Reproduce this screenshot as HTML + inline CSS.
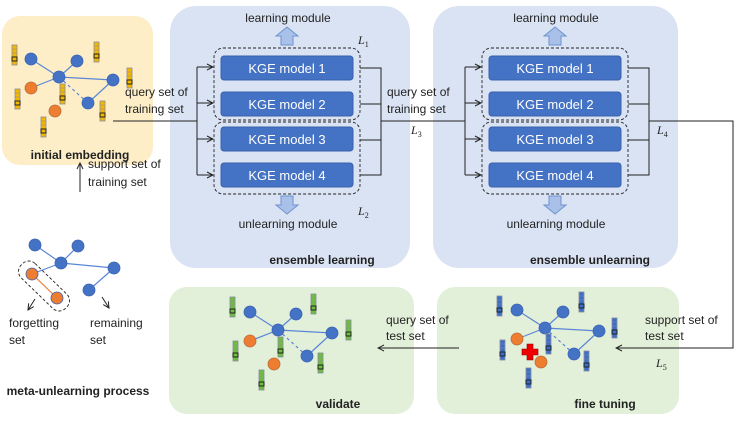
<!DOCTYPE html>
<html><head><meta charset="utf-8"><style>
body{margin:0;background:#fff}
svg{display:block}
text{font-family:"Liberation Sans",sans-serif;font-size:12px;fill:#222}
.b{font-weight:bold}
.k{fill:#fff;font-size:13px}
.L{font-family:"Liberation Serif",serif;font-style:italic;font-size:12px}
</style></head><body>
<svg width="747" height="421" viewBox="0 0 747 421" xmlns="http://www.w3.org/2000/svg">
<defs>
<g id="by"><rect x="0" y="0" width="5" height="20" fill="#f2b800" stroke="#8a8aa0" stroke-width="0.8"/><path d="M0 4H5M0 8H5M0 12H5M0 16H5" stroke="#8a8aa0" stroke-width="0.6"/><rect x="0" y="12" width="5" height="4" fill="none" stroke="#222" stroke-width="1"/></g>
<g id="bg"><rect x="0" y="0" width="5" height="20" fill="#6cbf3c" stroke="#8a8aa0" stroke-width="0.8"/><path d="M0 4H5M0 8H5M0 12H5M0 16H5" stroke="#8a8aa0" stroke-width="0.6"/><rect x="0" y="12" width="5" height="4" fill="none" stroke="#222" stroke-width="1"/></g>
<g id="bb"><rect x="0" y="0" width="5" height="20" fill="#3a6fc8" stroke="#8a8aa0" stroke-width="0.8"/><path d="M0 4H5M0 8H5M0 12H5M0 16H5" stroke="#8a8aa0" stroke-width="0.6"/><rect x="0" y="12" width="5" height="4" fill="none" stroke="#222" stroke-width="1"/></g>
<g id="gr">
<g stroke="#5b86d6" stroke-width="1.2"><line x1="0" y1="0" x2="-28" y2="-18"/><line x1="0" y1="0" x2="18" y2="-16"/><line x1="0" y1="0" x2="54" y2="3"/><line x1="0" y1="0" x2="-28" y2="11"/><line x1="0" y1="0" x2="29" y2="26" stroke-dasharray="3,3"/><line x1="54" y1="3" x2="29" y2="26"/></g>
<g stroke="#3c64b4" stroke-width="0.8"><circle cx="-28" cy="-18" r="6" fill="#4472c4"/><circle cx="18" cy="-16" r="6" fill="#4472c4"/><circle cx="0" cy="0" r="6" fill="#4472c4"/><circle cx="54" cy="3" r="6" fill="#4472c4"/><circle cx="29" cy="26" r="6" fill="#4472c4"/><circle cx="-28" cy="11" r="6" fill="#ed7d31" stroke="#b96d3a"/><circle cx="-4" cy="34" r="6" fill="#ed7d31" stroke="#b96d3a"/></g>
</g>
<marker id="ar" markerWidth="8" markerHeight="8" refX="7" refY="4" orient="auto" markerUnits="userSpaceOnUse"><path d="M1 1L7 4L1 7" fill="none" stroke="#222" stroke-width="1"/></marker>
</defs>

<rect x="2" y="16" width="151" height="149" rx="18" fill="#fdeec8"/>
<rect x="170" y="6" width="240" height="262" rx="26" fill="#dae3f3"/>
<rect x="433" y="6" width="245" height="262" rx="26" fill="#dae3f3"/>
<rect x="169" y="287" width="245" height="127" rx="18" fill="#e2efd9"/>
<rect x="437" y="287" width="242" height="127" rx="18" fill="#e2efd9"/>

<use href="#gr" x="59" y="77"/>
<use href="#by" x="12" y="45"/><use href="#by" x="94" y="42"/><use href="#by" x="127" y="68"/><use href="#by" x="15" y="89"/><use href="#by" x="60" y="84"/><use href="#by" x="100" y="101"/><use href="#by" x="41" y="117"/>
<text class="b" x="80" y="159" text-anchor="middle">initial embedding</text>

<line x1="80" y1="192" x2="80" y2="163" stroke="#222" marker-end="url(#ar)"/>
<text x="88" y="168">support set of</text><text x="88" y="186">training set</text>

<g transform="translate(61,263)">
<g stroke="#5b86d6" stroke-width="1.2"><line x1="0" y1="0" x2="-26" y2="-18"/><line x1="0" y1="0" x2="17" y2="-17"/><line x1="0" y1="0" x2="53" y2="5"/><line x1="0" y1="0" x2="-29" y2="11"/><line x1="53" y1="5" x2="28" y2="27"/></g>
<line x1="-29" y1="11" x2="-4" y2="35" stroke="#ed7d31" stroke-width="1.2"/>
<g stroke="#3c64b4" stroke-width="0.8"><circle cx="-26" cy="-18" r="6" fill="#4472c4"/><circle cx="17" cy="-17" r="6" fill="#4472c4"/><circle cx="0" cy="0" r="6" fill="#4472c4"/><circle cx="53" cy="5" r="6" fill="#4472c4"/><circle cx="28" cy="27" r="6" fill="#4472c4"/><circle cx="-29" cy="11" r="6" fill="#ed7d31"/><circle cx="-4" cy="35" r="6" fill="#ed7d31"/></g>
<rect x="-31" y="-10" width="62" height="20" rx="9" transform="translate(-17,23) rotate(44)" fill="none" stroke="#222" stroke-dasharray="3,2" stroke-width="0.9"/>
</g>
<line x1="35" y1="299" x2="28" y2="310" stroke="#222" marker-end="url(#ar)"/>
<line x1="102" y1="297" x2="109" y2="308" stroke="#222" marker-end="url(#ar)"/>
<text x="9" y="327" font-size="13">forgetting</text><text x="9" y="344" font-size="13">set</text>
<text x="90" y="327" font-size="13">remaining</text><text x="90" y="344" font-size="13">set</text>
<text class="b" x="78" y="395" text-anchor="middle">meta-unlearning  process</text>

<polyline points="113,121 197,121" fill="none" stroke="#222"/>
<text x="125" y="96">query set of</text><text x="125" y="113">training set</text>
<g id="ens">
<line x1="197" y1="67" x2="197" y2="175" stroke="#222"/>
<line x1="197" y1="67" x2="213" y2="67" stroke="#222" marker-end="url(#ar)"/>
<line x1="197" y1="103" x2="213" y2="103" stroke="#222" marker-end="url(#ar)"/>
<line x1="197" y1="139" x2="213" y2="139" stroke="#222" marker-end="url(#ar)"/>
<line x1="197" y1="175" x2="213" y2="175" stroke="#222" marker-end="url(#ar)"/>
<rect x="214" y="48" width="146" height="72" rx="9" fill="none" stroke="#222" stroke-dasharray="3,2" stroke-width="0.9"/>
<rect x="214" y="122" width="146" height="72" rx="9" fill="none" stroke="#222" stroke-dasharray="3,2" stroke-width="0.9"/>
<g fill="#4472c4" stroke="#3a62ad"><rect x="221" y="56" width="132" height="24" rx="3"/><rect x="221" y="92" width="132" height="24" rx="3"/><rect x="221" y="127" width="132" height="24" rx="3"/><rect x="221" y="163" width="132" height="24" rx="3"/></g>
<text class="k" x="287" y="73" text-anchor="middle">KGE model 1</text>
<text class="k" x="287" y="109" text-anchor="middle">KGE model 2</text>
<text class="k" x="287" y="144" text-anchor="middle">KGE model 3</text>
<text class="k" x="287" y="180" text-anchor="middle">KGE model 4</text>
<g stroke="#222" fill="none"><polyline points="360,68 381,68 381,175 360,175"/><line x1="360" y1="104" x2="381" y2="104"/><line x1="360" y1="140" x2="381" y2="140"/></g>
<path d="M281 45V36H276L287 27L298 36H293V45Z" fill="#a9c1e8" stroke="#6f93cf"/>
<path d="M281 196V205H276L287 214L298 205H293V196Z" fill="#a9c1e8" stroke="#6f93cf"/>
<text x="288" y="22" text-anchor="middle" font-size="13">learning module</text>
<text x="288" y="228" text-anchor="middle" font-size="13">unlearning module</text>
</g>
<text class="L" x="358" y="44">L<tspan font-size="8" dy="3" font-style="normal">1</tspan></text>
<text class="L" x="358" y="215">L<tspan font-size="8" dy="3" font-style="normal">2</tspan></text>
<text class="b" x="322" y="264" text-anchor="middle">ensemble learning</text>

<line x1="381" y1="121" x2="465" y2="121" stroke="#222"/>
<text x="387" y="96">query set of</text><text x="387" y="113">training set</text>
<text class="L" x="411" y="134">L<tspan font-size="8" dy="3" font-style="normal">3</tspan></text>

<use href="#ens" x="268" y="0"/>
<text class="L" x="657" y="134">L<tspan font-size="8" dy="3" font-style="normal">4</tspan></text>
<text class="b" x="590" y="264" text-anchor="middle">ensemble unlearning</text>

<polyline points="649,121 733,121 733,348 616,348" fill="none" stroke="#222" marker-end="url(#ar)"/>
<text x="645" y="324">support set of</text><text x="645" y="340">test set</text>
<text class="L" x="656" y="367">L<tspan font-size="8" dy="3" font-style="normal">5</tspan></text>

<line x1="459" y1="348" x2="378" y2="348" stroke="#222" marker-end="url(#ar)"/>
<text x="386" y="324">query set of</text><text x="386" y="340">test set</text>

<use href="#gr" x="278" y="330"/>
<use href="#bg" x="230" y="297"/><use href="#bg" x="311" y="294"/><use href="#bg" x="346" y="320"/><use href="#bg" x="233" y="341"/><use href="#bg" x="278" y="337"/><use href="#bg" x="318" y="353"/><use href="#bg" x="259" y="370"/>
<text class="b" x="338" y="408" text-anchor="middle">validate</text>

<use href="#gr" x="545" y="328"/>
<use href="#bb" x="497" y="296"/><use href="#bb" x="579" y="292"/><use href="#bb" x="612" y="318"/><use href="#bb" x="500" y="340"/><use href="#bb" x="546" y="334"/><use href="#bb" x="584" y="351"/><use href="#bb" x="526" y="368"/>
<path d="M527 344h6v5h5v6h-5v5h-6v-5h-5v-6h5z" fill="#e00" stroke="#900" stroke-width="0.6"/>
<text class="b" x="605" y="408" text-anchor="middle">fine tuning</text>
</svg>
</body></html>
